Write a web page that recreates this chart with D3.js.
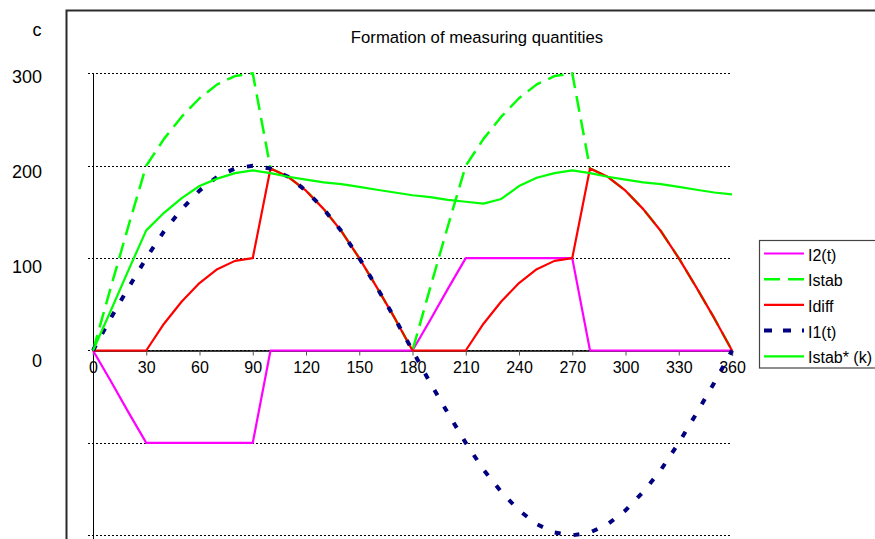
<!DOCTYPE html>
<html>
<head>
<meta charset="utf-8">
<script src="https://cdn.jsdelivr.net/npm/d3@7"></script>
<style>
  html, body { margin: 0; padding: 0; background: #fff; }
  svg { display: block; font-family: "Liberation Sans", Arial, sans-serif; }
</style>
</head>
<body>
<svg id="chart" width="875" height="539"></svg>
<script>
// ---- data (angle in degrees) ----
const angles = [0,10,20,30,40,50,60,70,80,90,100,110,120,130,140,150,160,170,180,
                190,200,210,220,230,240,250,260,270,280,290,300,310,320,330,340,350,360];
const I2 = [0,-33,-67,-100,-100,-100,-100,-100,-100,-100,0,0,0,0,0,0,0,0,0,
            33,67,100,100,100,100,100,100,100,0,0,0,0,0,0,0,0,0];
const Istab = [0,68,135,200,229,253,273,288,297,300,197,188,173,153,129,100,68,35,0,
               68,135,200,229,253,273,288,297,300,197,188,173,153,129,100,68,35,0];
const Idiff = [0,0,0,0,29,53,73,88,97,100,197,188,173,153,129,100,68,35,0,
               0,0,0,29,53,73,88,97,100,197,188,173,153,129,100,68,35,0];
const I1 = [0,35,68,100,129,153,173,188,197,200,197,188,173,153,129,100,68,35,0,
            -35,-68,-100,-129,-153,-173,-188,-197,-200,-197,-188,-173,-153,-129,-100,-68,-35,0];
const IstabK = [0,43,87,130,149,165,178,186,192,195,192,188,185,182,180,177,174,171,168,
                166,163,161,159,164,178,187,192,195,192,188,185,182,180,177,174,171,169];
const xTicks = [0,30,60,90,120,150,180,210,240,270,300,330,360];
const yGrid = [300,200,100,0,-100,-200];
const yLabels = [300,200,100,0];
const title = "Formation of measuring quantities";
const yUnit = "c";

const seriesList = [
  { name: "I2(t)",      values: I2,     color: "#FF00FF", width: 2.2, dash: null,   legendDash: null },
  { name: "Istab",      values: Istab,  color: "#00FF00", width: 2.5, dash: "16,8", legendDash: "16,8" },
  { name: "Idiff",      values: Idiff,  color: "#FF0000", width: 2.2, dash: null,   legendDash: null },
  { name: "I1(t)",      values: I1,     color: "#000080", width: 4,   dash: "6,13", legendDash: "8,11" },
  { name: "Istab* (k)", values: IstabK, color: "#00FF00", width: 2.2, dash: null,   legendDash: null }
];

const svg = d3.select("#chart");

// chart frame
svg.append("rect")
  .attr("x", 66.5).attr("y", 10.5)
  .attr("width", 1000).attr("height", 800)
  .attr("fill", "none").attr("stroke", "#2b2b2b").attr("stroke-width", 2);

const x = d3.scaleLinear().domain([0, 360]).range([93, 732]);
const y = d3.scaleLinear().domain([-200, 300]).range([535.3, 73.3]);
const yLab = d3.scaleLinear().domain([0, 300]).range([361, 77]);

// gridlines
svg.append("g").selectAll("line").data(yGrid).join("line")
  .attr("x1", 88).attr("x2", x(360))
  .attr("y1", d => Math.round(y(d)) + 0.5).attr("y2", d => Math.round(y(d)) + 0.5)
  .attr("stroke", "#000").attr("stroke-width", 1).attr("stroke-dasharray", "2,2");

// y axis line
svg.append("line")
  .attr("x1", 93.5).attr("x2", 93.5)
  .attr("y1", y(300)).attr("y2", 545)
  .attr("stroke", "#000").attr("stroke-width", 1);

// x axis
const xAxis = d3.axisBottom(x).tickValues(xTicks).tickSize(5).tickPadding(6)
  .tickFormat(d3.format("d"));
const gx = svg.append("g")
  .attr("transform", `translate(0,${Math.round(y(0)) + 0.5})`)
  .call(xAxis);
gx.select(".domain").attr("stroke", "#000").attr("stroke-width", 1.3);
gx.selectAll(".tick line").attr("stroke", "#555");
gx.selectAll(".tick text")
  .attr("font-size", 16).attr("fill", "#000")
  .attr("font-family", "Liberation Sans, Arial, sans-serif");

// y labels
svg.append("g").selectAll("text").data(yLabels).join("text")
  .attr("x", 42).attr("y", d => yLab(d))
  .attr("dy", "0.36em")
  .attr("text-anchor", "end")
  .attr("font-size", 18).attr("fill", "#000")
  .text(d => d);

svg.append("text")
  .attr("x", 37).attr("y", 36)
  .attr("text-anchor", "middle")
  .attr("font-size", 18).attr("fill", "#000")
  .text(yUnit);

// title
svg.append("text")
  .attr("x", 477).attr("y", 43)
  .attr("text-anchor", "middle")
  .attr("font-size", 16.7).attr("fill", "#000")
  .text(title);

// lines
const line = d3.line().x((d, i) => x(angles[i])).y(d => y(d));
svg.append("g").selectAll("path").data(seriesList).join("path")
  .attr("d", s => line(s.values))
  .attr("fill", "none")
  .attr("stroke", s => s.color)
  .attr("stroke-width", s => s.width)
  .attr("stroke-dasharray", s => s.dash)
  .attr("stroke-linejoin", "round");

// legend
const lg = svg.append("g");
lg.append("rect")
  .attr("x", 759.5).attr("y", 240.5)
  .attr("width", 200).attr("height", 127.5)
  .attr("fill", "#fff").attr("stroke", "#444").attr("stroke-width", 1.2);
const items = lg.selectAll("g.item").data(seriesList).join("g")
  .attr("class", "item")
  .attr("transform", (d, i) => `translate(0,${253.5 + i * 25.7})`);
items.append("line")
  .attr("x1", 764).attr("x2", 804).attr("y1", 0).attr("y2", 0)
  .attr("stroke", d => d.color)
  .attr("stroke-width", d => d.width)
  .attr("stroke-dasharray", d => d.legendDash);
items.append("text")
  .attr("x", 808).attr("y", 7)
  .attr("font-size", 16).attr("fill", "#000")
  .text(d => d.name);
</script>
</body>
</html>
